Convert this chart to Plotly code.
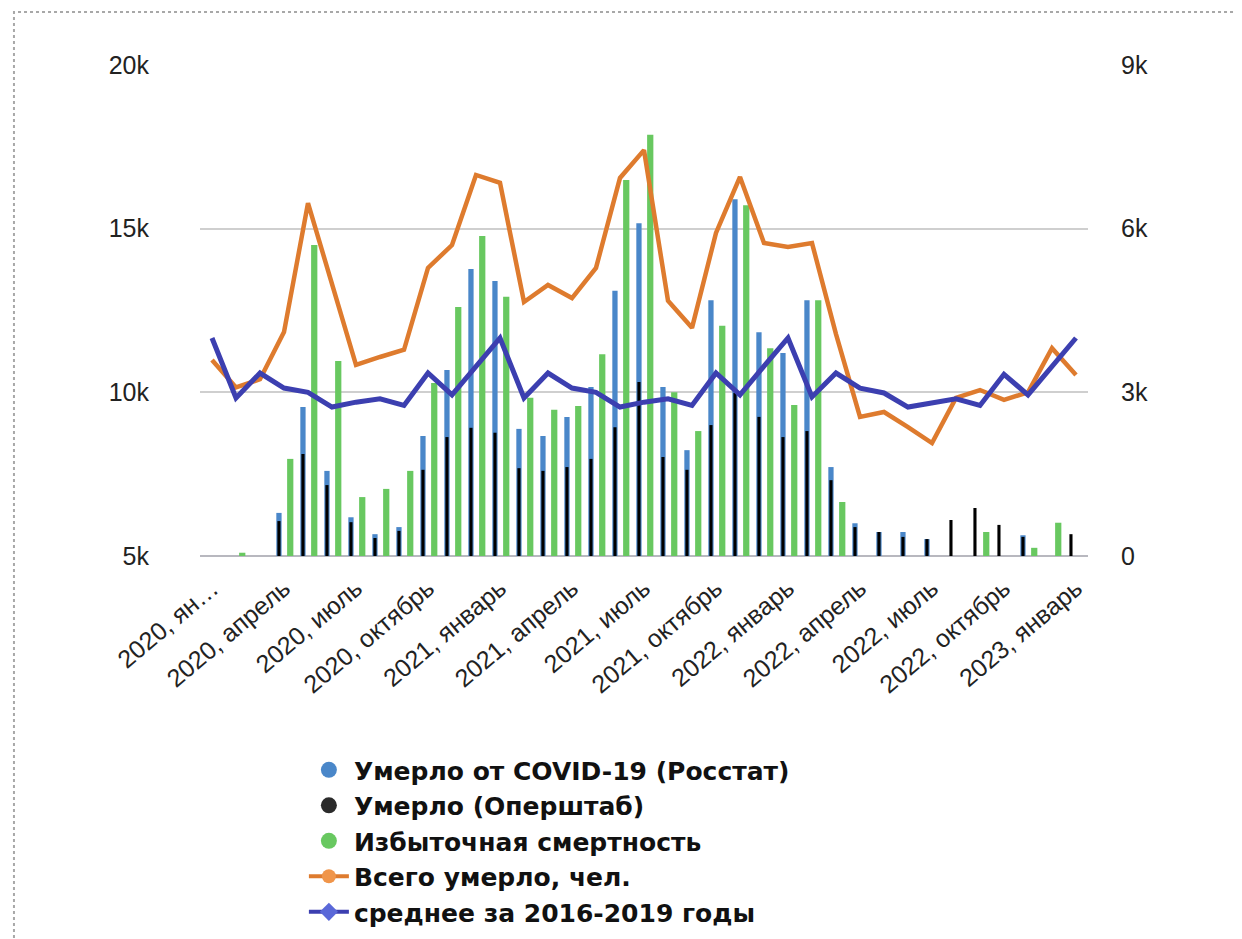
import plotly.graph_objects as go

# ---- data ----
months = list(range(37))
tick_pos = [0, 3, 6, 9, 12, 15, 18, 21, 24, 27, 30, 33, 36]
tick_labels = ["2020, ян…", "2020, апрель", "2020, июль", "2020, октябрь",
               "2021, январь", "2021, апрель", "2021, июль", "2021, октябрь",
               "2022, январь", "2022, апрель", "2022, июль", "2022, октябрь",
               "2023, январь"]

total_deaths = [10990, 10150, 10400, 11840, 15780, 13300, 10840, 11080, 11300, 13800,
                14500, 16640, 16400, 12760, 13280, 12880, 13800, 16550, 17400, 12800,
                11970, 14870, 16580, 14560, 14440, 14560, 11780, 9250, 9400, 8940,
                8450, 9830, 10070, 9770, 10000, 11350, 10530]

avg_2016_2019 = [11660, 9830, 10590, 10130, 10000, 9550, 9700, 9800, 9600, 10590, 9920, 10800,
                 11660, 9830, 10590, 10130, 10000, 9550, 9700, 9800, 9600, 10590, 9920, 10800,
                 11660, 9860, 10590, 10130, 9980, 9550, 9670, 9800, 9600, 10550, 9920, 10800,
                 11660]

covid_rosstat = [None, None, None, 790, 2730, 1560, 710, 400, 530, 2200,
                 3410, 5260, 5040, 2330, 2200, 2550, 3100, 4860, 6100, 3100,
                 1940, 4690, 6540, 4100, 3720, 4690, 1630, 600, 440, 440,
                 310, None, None, None, 380, None, None]

covid_opershtab = [None, None, None, 640, 1870, 1300, 620, 330, 460, 1580,
                   2180, 2350, 2260, 1610, 1560, 1630, 1780, 2360, 3190, 1815,
                   1580, 2400, 2990, 2550, 2180, 2290, 1390, 530, 440, 350,
                   310, 660, 880, 570, 350, None, 400]

excess_mortality = [None, 60, None, 1780, 5700, 3575, 1080, 1230, 1560, 3170,
                    4565, 5865, 4750, 2900, 2680, 2750, 3700, 6890, 7720, 3000,
                    2290, 4220, 6430, 3810, 2770, 4690, 990, None, None, None,
                    None, None, 440, None, 150, 610, None]

names = ["Умерло от COVID-19 (Росстат)", "Умерло (Оперштаб)", "Избыточная смертность",
         "Всего умерло, чел.", "среднее за 2016-2019 годы"]

C_BLUE = "#4a87c9"
C_BLACK = "#000000"
C_GREEN = "#68c860"
C_ORANGE = "#de7b2e"
C_NAVY = "#3c3fb0"

fig = go.Figure()

# bars (right axis, drawn underneath)
fig.add_trace(go.Bar(x=months, y=covid_rosstat, yaxis="y", marker_color=C_BLUE,
                     marker_line_width=0, width=0.22, offset=-0.32, showlegend=False))
fig.add_trace(go.Bar(x=months, y=covid_opershtab, yaxis="y", marker_color=C_BLACK,
                     marker_line_width=0, width=0.13, offset=-0.275, showlegend=False))
fig.add_trace(go.Bar(x=months, y=excess_mortality, yaxis="y", marker_color=C_GREEN,
                     marker_line_width=0, width=0.26, offset=0.13, showlegend=False))

# lines (left axis, drawn on top)
fig.add_trace(go.Scatter(x=months, y=total_deaths, yaxis="y2", mode="lines",
                         line=dict(color=C_ORANGE, width=4.5), showlegend=False))
fig.add_trace(go.Scatter(x=months, y=avg_2016_2019, yaxis="y2", mode="lines",
                         line=dict(color=C_NAVY, width=5), showlegend=False))

# legend proxies
for nm, col in zip(names[:3], [C_BLUE, "#2b2b2b", C_GREEN]):
    fig.add_trace(go.Scatter(x=[None], y=[None], yaxis="y2", mode="markers", name=nm,
                             marker=dict(symbol="circle", size=30, color=col)))
fig.add_trace(go.Scatter(x=[None], y=[None], yaxis="y2", mode="lines+markers", name=names[3],
                         line=dict(color=C_ORANGE, width=4),
                         marker=dict(symbol="circle", size=14, color="#f0954a")))
fig.add_trace(go.Scatter(x=[None], y=[None], yaxis="y2", mode="lines+markers", name=names[4],
                         line=dict(color=C_NAVY, width=4),
                         marker=dict(symbol="diamond", size=14, color="#5a68d8")))

tick_font = dict(family="Liberation Sans, Arial, sans-serif", size=25, color="#222222")

fig.update_layout(
    width=1234, height=931,
    paper_bgcolor="white", plot_bgcolor="white",
    margin=dict(l=192, r=154, t=57, b=383, autoexpand=False),
    barmode="overlay",
    xaxis=dict(range=[-0.5, 36.5], tickmode="array", tickvals=tick_pos, ticktext=tick_labels,
               tickangle=-40, tickfont=tick_font, showgrid=False, zeroline=False,
               showline=False, ticks="", ticklabelstandoff=12),
    yaxis=dict(range=[0, 9000], side="right", tickmode="array",
               tickvals=[0, 3000, 6000, 9000], ticktext=["0", "3k", "6k", "9k"],
               tickfont=tick_font, showgrid=True, gridcolor="#cfcfcf", gridwidth=1.5,
               zeroline=True, zerolinecolor="#b8b8bf", zerolinewidth=1.5,
               ticklabelstandoff=32, showline=False),
    yaxis2=dict(range=[5000, 20000], side="left", overlaying="y", tickmode="array",
                tickvals=[5000, 10000, 15000, 20000], ticktext=["5k", "10k", "15k", "20k"],
                tickfont=tick_font, showgrid=False, zeroline=False,
                ticklabelstandoff=50, showline=False),
    legend=dict(x=0.117, y=-0.772, xanchor="left", yanchor="bottom",
                font=dict(family="DejaVu Sans, Liberation Sans, sans-serif", size=25,
                          color="#111111", weight="bold"),
                tracegroupgap=0, itemwidth=40, bgcolor="rgba(0,0,0,0)"),
    shapes=[dict(type="rect", xref="paper", yref="paper",
                 x0=-0.2095, x1=1.169, y0=-0.80, y1=1.108,
                 line=dict(color="#a8a8a8", width=2, dash="dot"))],
)

fig.write_html("out.html")
